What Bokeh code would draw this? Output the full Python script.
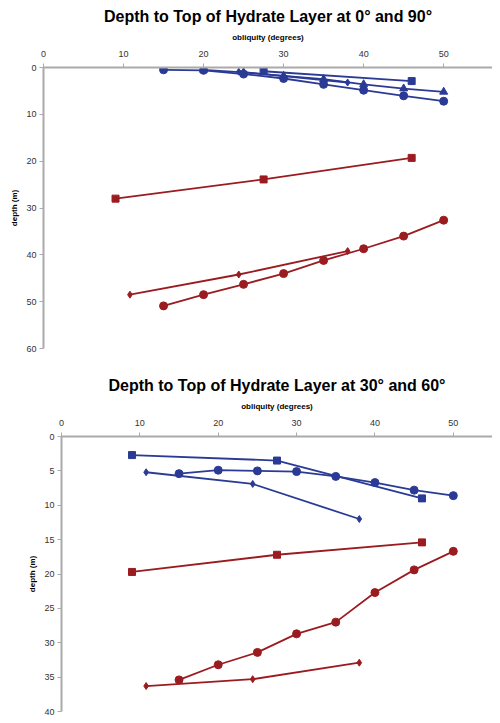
from bokeh.plotting import figure
from bokeh.layouts import column, row
from bokeh.models import Range1d, FixedTicker, Spacer
from bokeh.embed import file_html
from bokeh.resources import INLINE

BLUE = "#2b3b95"
RED = "#9b1c20"

# Panel 1: 0 and 90 degrees latitude
p1_blue_circle_x = [15, 20, 25, 30, 35, 40, 45, 50]
p1_blue_circle_y = [0.5, 0.6, 1.4, 2.35, 3.6, 4.85, 6.05, 7.2]
p1_blue_tri_x = [20, 25, 30, 35, 40, 45, 50]
p1_blue_tri_y = [0.5, 1.05, 1.8, 2.5, 3.6, 4.5, 5.2]
p1_blue_dia_x = [24.4, 38]
p1_blue_dia_y = [0.9, 3.2]
p1_blue_sq_x = [27.5, 46]
p1_blue_sq_y = [0.8, 2.9]
p1_red_sq_x = [9.0, 27.5, 46]
p1_red_sq_y = [28.0, 23.9, 19.3]
p1_red_circle_x = [15, 20, 25, 30, 35, 40, 45, 50]
p1_red_circle_y = [50.9, 48.5, 46.3, 44.0, 41.2, 38.7, 36.0, 32.6]
p1_red_dia_x = [10.8, 24.4, 38]
p1_red_dia_y = [48.5, 44.2, 39.2]

# Panel 2: 30 and 60 degrees latitude
p2_blue_sq_x = [9.0, 27.5, 46]
p2_blue_sq_y = [2.7, 3.5, 9.0]
p2_blue_circle_x = [15, 20, 25, 30, 35, 40, 45, 50]
p2_blue_circle_y = [5.4, 4.9, 5.0, 5.1, 5.8, 6.7, 7.8, 8.6]
p2_blue_dia_x = [10.8, 24.4, 38]
p2_blue_dia_y = [5.2, 6.9, 12.0]
p2_red_sq_x = [9.0, 27.5, 46]
p2_red_sq_y = [19.7, 17.2, 15.4]
p2_red_circle_x = [15, 20, 25, 30, 35, 40, 45, 50]
p2_red_circle_y = [35.4, 33.2, 31.4, 28.7, 27.0, 22.7, 19.4, 16.7]
p2_red_dia_x = [10.8, 24.4, 38]
p2_red_dia_y = [36.3, 35.3, 32.9]

x_ticks = [0, 10, 20, 30, 40, 50]
p1_y_ticks = [0, 10, 20, 30, 40, 50, 60]
p2_y_ticks = [0, 5, 10, 15, 20, 25, 30, 35, 40]


def make_fig(title, fw, fh, xmax, ymax, yticks, mbottom):
    p = figure(frame_width=fw, frame_height=fh, output_backend="svg",
               toolbar_location=None,
               x_range=Range1d(0, xmax), y_range=Range1d(ymax, 0),
               x_axis_location="above", title=title,
               min_border_top=0, min_border_left=0,
               min_border_bottom=mbottom, min_border_right=0)
    p.title.align = "center"
    p.title.text_font = "Liberation Sans"
    p.title.text_font_size = "16px"
    p.title.text_font_style = "bold"
    p.title.text_color = "#000000"
    p.title.offset = 0
    p.outline_line_color = None
    p.grid.visible = False
    for ax in (p.xaxis[0], p.yaxis[0]):
        ax.axis_line_color = "#aaaaaa"
        ax.axis_line_width = 2
        ax.major_tick_line_color = "#aaaaaa"
        ax.major_tick_line_width = 1
        ax.major_tick_out = 4
        ax.major_tick_in = 0
        ax.minor_tick_line_color = None
        ax.major_label_text_font = "Liberation Sans"
        ax.major_label_text_font_size = "9px"
        ax.major_label_text_color = "#333333"
        ax.axis_label_text_font = "Liberation Sans"
        ax.axis_label_text_font_size = "8px"
        ax.axis_label_text_font_style = "bold"
        ax.axis_label_text_color = "#000000"
    p.xaxis[0].major_label_standoff = 7
    p.xaxis[0].axis_label_standoff = 6
    p.yaxis[0].major_label_standoff = 3
    p.yaxis[0].axis_label_standoff = 4
    p.xaxis[0].axis_label = "obliquity (degrees)"
    p.yaxis[0].axis_label = "depth (m)"
    p.xaxis[0].ticker = FixedTicker(ticks=x_ticks)
    p.yaxis[0].ticker = FixedTicker(ticks=yticks)
    return p


def series(p, xs, ys, color, marker):
    p.line(xs, ys, line_color=color, line_width=1.8)
    if marker == "circle":
        p.scatter(xs, ys, marker="circle", size=8, fill_color=color, line_color=color)
    elif marker == "square":
        p.scatter(xs, ys, marker="square", size=7, fill_color=color, line_color=color)
    elif marker == "triangle":
        p.scatter(xs, ys, marker="triangle", size=8, fill_color=color, line_color=color)
    else:
        p.scatter(xs, ys, marker="diamond", size=7, fill_color=color, line_color=color)


p1 = make_fig("Depth to Top of Hydrate Layer at 0° and 90°", 449, 281, 56.1, 60,
              p1_y_ticks, 21)
series(p1, p1_blue_circle_x, p1_blue_circle_y, BLUE, "circle")
series(p1, p1_blue_tri_x, p1_blue_tri_y, BLUE, "triangle")
series(p1, p1_blue_dia_x, p1_blue_dia_y, BLUE, "diamond")
series(p1, p1_blue_sq_x, p1_blue_sq_y, BLUE, "square")
series(p1, p1_red_sq_x, p1_red_sq_y, RED, "square")
series(p1, p1_red_circle_x, p1_red_circle_y, RED, "circle")
series(p1, p1_red_dia_x, p1_red_dia_y, RED, "diamond")

p2 = make_fig("Depth to Top of Hydrate Layer at 30° and 60°", 431, 275, 55.0, 40,
              p2_y_ticks, 5)
series(p2, p2_blue_sq_x, p2_blue_sq_y, BLUE, "square")
series(p2, p2_blue_circle_x, p2_blue_circle_y, BLUE, "circle")
series(p2, p2_blue_dia_x, p2_blue_dia_y, BLUE, "diamond")
series(p2, p2_red_sq_x, p2_red_sq_y, RED, "square")
series(p2, p2_red_circle_x, p2_red_circle_y, RED, "circle")
series(p2, p2_red_dia_x, p2_red_dia_y, RED, "diamond")

layout = column(row(Spacer(width=7), p1, spacing=0),
                row(Spacer(width=25), p2, spacing=0), spacing=0)
open("out.html", "w").write(file_html(layout, INLINE))
